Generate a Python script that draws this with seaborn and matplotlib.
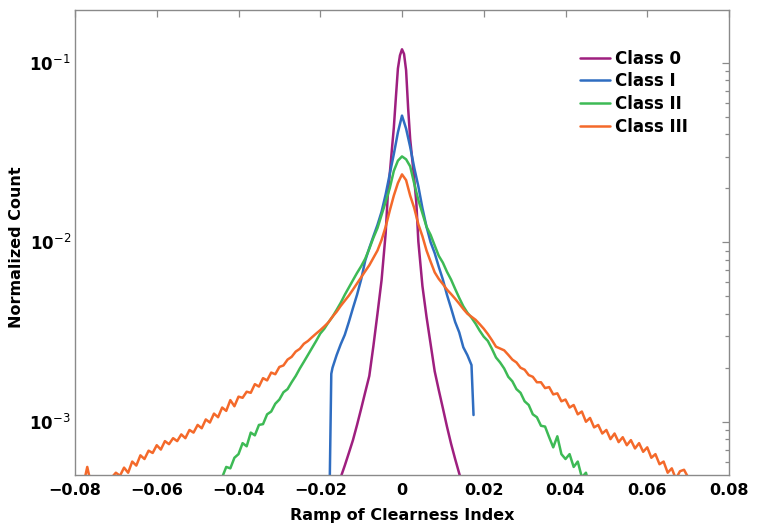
import numpy as np
import pandas as pd
import matplotlib
matplotlib.use("Agg")
import matplotlib.pyplot as plt
import seaborn as sns

# ---------------- data ----------------
class_names = ["Class 0", "Class I", "Class II", "Class III"]
class_colors = ["#9E1F7F", "#2F6DC1", "#3DBA55", "#F4692A"]

# Class 0 (purple)
class0_x = [-0.0155, -0.015, -0.014, -0.013, -0.012, -0.011, -0.010, -0.009, -0.008, -0.007,
            -0.006, -0.005, -0.004, -0.0035, -0.003, -0.0025, -0.002, -0.0015, -0.001, -0.0005,
            0.0, 0.0005, 0.001, 0.0015, 0.002, 0.0025, 0.003, 0.0035, 0.004, 0.005,
            0.006, 0.007, 0.008, 0.009, 0.010, 0.011, 0.012, 0.013, 0.014, 0.015]
class0_y = [4.3e-4, 4.9e-4, 5.7e-4, 6.7e-4, 7.9e-4, 9.6e-4, 1.18e-3, 1.46e-3, 1.80e-3, 2.64e-3,
            4.0e-3, 6.15e-3, 1.12e-2, 1.79e-2, 2.4e-2, 3.24e-2, 4.35e-2, 6.4e-2, 9.3e-2, 1.10e-1,
            1.19e-1, 1.12e-1, 9.1e-2, 5.6e-2, 3.76e-2, 2.9e-2, 2.24e-2, 1.67e-2, 1.01e-2, 5.7e-3,
            3.84e-3, 2.71e-3, 1.91e-3, 1.50e-3, 1.19e-3, 9.4e-4, 7.55e-4, 6.2e-4, 5.15e-4, 4.3e-4]

# Class I (blue)
class1_x = [-0.0178, -0.0173, -0.017, -0.016, -0.015, -0.014, -0.013, -0.012, -0.011, -0.010,
            -0.009, -0.008, -0.007, -0.006, -0.005, -0.004, -0.003, -0.002, -0.001, 0.0,
            0.001, 0.002, 0.003, 0.004, 0.005, 0.006, 0.007, 0.008, 0.009, 0.010,
            0.011, 0.012, 0.013, 0.014, 0.015, 0.016, 0.017, 0.0175]
class1_y = [3.0e-4, 1.85e-3, 2.0e-3, 2.35e-3, 2.7e-3, 3.05e-3, 3.6e-3, 4.3e-3, 5.1e-3, 6.2e-3,
            7.9e-3, 9.3e-3, 1.08e-2, 1.25e-2, 1.48e-2, 1.85e-2, 2.4e-2, 3.1e-2, 4.1e-2, 5.08e-2,
            4.3e-2, 3.4e-2, 2.6e-2, 2.05e-2, 1.55e-2, 1.22e-2, 1.0e-2, 8.7e-3, 7.3e-3, 6.2e-3,
            5.1e-3, 4.3e-3, 3.6e-3, 3.15e-3, 2.6e-3, 2.35e-3, 2.07e-3, 1.09e-3]

# Class II (green), bins from -0.046 to 0.046 every 0.001
class2_start, class2_step = -0.046, 0.001
class2_y = [4.2e-4, 4.5e-4, 4.9e-4, 5.6e-4, 5.5e-4, 6.3e-4, 6.6e-4, 7.6e-4, 7.3e-4, 8.7e-4,
            8.4e-4, 9.6e-4, 9.7e-4, 1.10e-3, 1.14e-3, 1.26e-3, 1.33e-3, 1.46e-3, 1.52e-3, 1.66e-3,
            1.80e-3, 1.98e-3, 2.16e-3, 2.36e-3, 2.58e-3, 2.82e-3, 3.10e-3, 3.30e-3, 3.58e-3, 3.85e-3,
            4.2e-3, 4.6e-3, 5.1e-3, 5.6e-3, 6.15e-3, 6.75e-3, 7.35e-3, 8.1e-3, 9.2e-3, 1.06e-2,
            1.20e-2, 1.42e-2, 1.68e-2, 2.0e-2, 2.5e-2, 2.85e-2, 3.01e-2, 2.9e-2, 2.65e-2, 2.12e-2,
            1.72e-2, 1.45e-2, 1.22e-2, 1.10e-2, 9.6e-3, 8.4e-3, 7.7e-3, 6.85e-3, 6.2e-3, 5.5e-3,
            4.9e-3, 4.4e-3, 4.05e-3, 3.8e-3, 3.52e-3, 3.22e-3, 2.98e-3, 2.82e-3, 2.55e-3, 2.28e-3,
            2.14e-3, 1.98e-3, 1.78e-3, 1.68e-3, 1.52e-3, 1.45e-3, 1.30e-3, 1.24e-3, 1.10e-3, 1.06e-3,
            9.5e-4, 9.4e-4, 8.2e-4, 7.2e-4, 8.3e-4, 6.6e-4, 6.2e-4, 6.6e-4, 5.6e-4, 6.0e-4,
            4.9e-4, 5.2e-4, 4.3e-4]

# Class III (orange), bins from -0.080 to 0.070 every 0.001
class3_start, class3_step = -0.080, 0.001
class3_y = [4.2e-4, 4.3e-4, 4.4e-4, 5.6e-4, 4.4e-4, 4.5e-4, 4.6e-4, 4.7e-4, 4.8e-4, 4.9e-4,
            5.2e-4, 5.0e-4, 5.55e-4, 5.2e-4, 6.0e-4, 5.7e-4, 6.5e-4, 6.2e-4, 6.9e-4, 6.7e-4,
            7.4e-4, 7.0e-4, 7.8e-4, 7.5e-4, 8.1e-4, 7.8e-4, 8.5e-4, 8.1e-4, 9.0e-4, 8.7e-4,
            9.6e-4, 9.2e-4, 1.03e-3, 9.9e-4, 1.11e-3, 1.06e-3, 1.20e-3, 1.15e-3, 1.32e-3, 1.22e-3,
            1.38e-3, 1.36e-3, 1.47e-3, 1.45e-3, 1.62e-3, 1.57e-3, 1.75e-3, 1.70e-3, 1.88e-3, 1.84e-3,
            2.02e-3, 2.06e-3, 2.22e-3, 2.30e-3, 2.46e-3, 2.55e-3, 2.72e-3, 2.82e-3, 2.96e-3, 3.10e-3,
            3.24e-3, 3.40e-3, 3.58e-3, 3.85e-3, 4.10e-3, 4.42e-3, 4.72e-3, 5.05e-3, 5.45e-3, 5.90e-3,
            6.40e-3, 6.90e-3, 7.45e-3, 8.2e-3, 9.0e-3, 1.03e-2, 1.22e-2, 1.50e-2, 1.82e-2, 2.14e-2,
            2.39e-2, 2.22e-2, 1.82e-2, 1.55e-2, 1.26e-2, 1.08e-2, 9.0e-3, 7.8e-3, 6.8e-3, 6.25e-3,
            5.85e-3, 5.45e-3, 5.15e-3, 4.85e-3, 4.55e-3, 4.25e-3, 4.0e-3, 3.85e-3, 3.70e-3, 3.50e-3,
            3.30e-3, 3.08e-3, 2.85e-3, 2.62e-3, 2.56e-3, 2.50e-3, 2.36e-3, 2.22e-3, 2.14e-3, 2.00e-3,
            1.95e-3, 1.82e-3, 1.78e-3, 1.66e-3, 1.66e-3, 1.54e-3, 1.56e-3, 1.42e-3, 1.44e-3, 1.30e-3,
            1.33e-3, 1.20e-3, 1.24e-3, 1.10e-3, 1.14e-3, 1.00e-3, 1.05e-3, 9.3e-4, 9.6e-4, 8.6e-4,
            9.0e-4, 8.0e-4, 8.6e-4, 7.7e-4, 8.2e-4, 7.4e-4, 7.9e-4, 7.1e-4, 7.6e-4, 6.8e-4,
            7.2e-4, 6.3e-4, 6.6e-4, 5.8e-4, 6.0e-4, 5.2e-4, 5.5e-4, 4.8e-4, 5.3e-4, 5.4e-4,
            4.9e-4]

x_ticks = [-0.08, -0.06, -0.04, -0.02, 0, 0.02, 0.04, 0.06, 0.08]
x_tick_labels = ["\u22120.08", "\u22120.06", "\u22120.04", "\u22120.02", "0", "0.02", "0.04", "0.06", "0.08"]
y_ticks = [1e-3, 1e-2, 1e-1]
y_tick_labels = [r"$\mathbf{10}^{-3}$", r"$\mathbf{10}^{-2}$", r"$\mathbf{10}^{-1}$"]

# ---------------- build long table ----------------
class2_x = class2_start + class2_step * np.arange(len(class2_y))
class3_x = class3_start + class3_step * np.arange(len(class3_y))
frames = []
for name, xs, ys in zip(class_names,
                        [class0_x, class1_x, class2_x, class3_x],
                        [class0_y, class1_y, class2_y, class3_y]):
    frames.append(pd.DataFrame({"ramp": xs, "count": ys, "cls": name}))
df = pd.concat(frames, ignore_index=True)

# ---------------- plot ----------------
sns.set_style("white")
plt.rcParams["font.family"] = ["DejaVu Sans"]
plt.rcParams["mathtext.fontset"] = "dejavusans"
plt.rcParams["text.color"] = "black"
plt.rcParams["axes.labelcolor"] = "black"

fig = plt.figure(figsize=(7.57, 5.25), dpi=100)
ax = fig.add_axes([75 / 757, 1 - 475 / 525, 654 / 757, 465 / 525])

sns.lineplot(data=df, x="ramp", y="count", hue="cls", hue_order=class_names,
             palette=class_colors, estimator=None, linewidth=1.8, ax=ax)

ax.set_yscale("log")
ax.set_xlim(-0.08, 0.08)
ax.set_ylim(5.05e-4, 0.197)

ax.set_xticks(x_ticks)
ax.set_xticklabels(x_tick_labels, fontsize=11.5, fontweight="bold")
ax.set_yticks(y_ticks)
ax.set_yticklabels(y_tick_labels, fontsize=12)

ax.tick_params(which="both", direction="in", top=True, right=True,
               color="#8a8a8a", width=0.9, labelcolor="black")
ax.tick_params(which="major", length=5)
ax.tick_params(axis="x", which="major", pad=6)
ax.tick_params(axis="y", which="major", pad=3)
ax.tick_params(which="minor", length=3)
ax.minorticks_on()
ax.xaxis.set_minor_locator(matplotlib.ticker.NullLocator())

for sp in ax.spines.values():
    sp.set_color("#8a8a8a")
    sp.set_linewidth(1.0)

ax.set_xlabel("Ramp of Clearness Index", fontsize=11.5, fontweight="bold")
ax.set_ylabel("Normalized Count", fontsize=11.5, fontweight="bold")
ax.xaxis.set_label_coords(0.5, -0.072)
ax.yaxis.set_label_coords(-0.078, 0.49)

leg = ax.legend(loc="upper left", bbox_to_anchor=(0.772, 0.915), frameon=False,
                prop={"size": 12, "weight": "bold"}, handlelength=1.8,
                handletextpad=0.3, labelspacing=0.28, borderpad=0, borderaxespad=0)
for line in leg.get_lines():
    line.set_linewidth(1.8)

fig.savefig("out.png", dpi=100)
